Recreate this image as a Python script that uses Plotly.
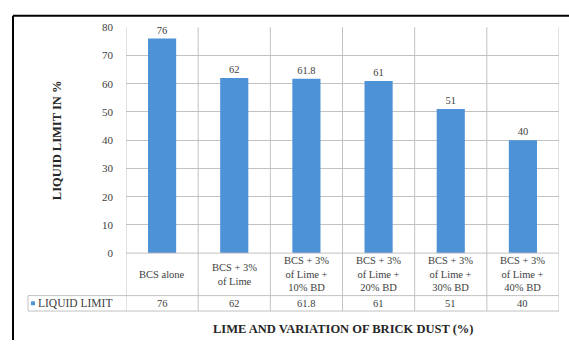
import plotly.graph_objects as go

# Chart data
categories = ["BCS alone", "BCS + 3% of Lime", "BCS + 3% of Lime + 10% BD",
              "BCS + 3% of Lime + 20% BD", "BCS + 3% of Lime + 30% BD",
              "BCS + 3% of Lime + 40% BD"]
category_labels = ["BCS alone", "BCS + 3%<br>of Lime", "BCS + 3%<br>of Lime +<br>10% BD",
                   "BCS + 3%<br>of Lime +<br>20% BD", "BCS + 3%<br>of Lime +<br>30% BD",
                   "BCS + 3%<br>of Lime +<br>40% BD"]
liquid_limit = [76, 62, 61.8, 61, 51, 40]
series_name = "LIQUID LIMIT"
y_ticks = [0, 10, 20, 30, 40, 50, 60, 70, 80]

W, H = 569, 346
FONT = "Liberation Serif"
BLUE = "#4d91d6"
GRID = "#c2c2c2"
TXT = "#404040"


def px(x):
    return x / W


def py(y):
    return 1 - y / H


# plot area in pixels
PL, PR, PT, PB = 126, 559, 22, 256
ROW1_B = 300   # bottom of category-label row
ROW2_B = 316   # bottom of value row
LEG_L = 28     # left edge of the series cell

fig = go.Figure()
fig.add_trace(go.Bar(
    x=categories, y=liquid_limit, name=series_name,
    marker=dict(color=BLUE, line=dict(width=0)),
    width=0.39,
    text=[str(v) for v in liquid_limit], textposition="outside",
    textfont=dict(family=FONT, size=10.5, color=TXT),
    cliponaxis=False,
))

shapes = []
n = len(categories)
# vertical table/grid lines at category boundaries
for i in range(n + 1):
    shapes.append(dict(type="line", xref="x", yref="paper",
                       x0=i - 0.5, x1=i - 0.5, y0=py(ROW2_B), y1=py(PT),
                       line=dict(color=GRID, width=1)))
# horizontal table lines
shapes.append(dict(type="line", xref="x", yref="paper", x0=-0.5, x1=n - 0.5,
                   y0=py(PB), y1=py(PB), line=dict(color=GRID, width=1)))
for yy in (ROW1_B, ROW2_B):
    shapes.append(dict(type="line", xref="paper", yref="paper", x0=px(LEG_L), x1=px(PR),
                       y0=py(yy), y1=py(yy), line=dict(color=GRID, width=1)))
shapes.append(dict(type="line", xref="paper", yref="paper", x0=px(LEG_L), x1=px(LEG_L),
                   y0=py(ROW1_B), y1=py(ROW2_B), line=dict(color=GRID, width=1)))
# legend key
shapes.append(dict(type="rect", xref="paper", yref="paper", x0=px(31), x1=px(35),
                   y0=py(310), y1=py(306), fillcolor=BLUE, line=dict(width=0)))
# outer frame (left and top edges)
shapes.append(dict(type="line", xref="paper", yref="paper", x0=px(13), x1=px(13),
                   y0=0, y1=py(10), line=dict(color="black", width=2)))
shapes.append(dict(type="line", xref="paper", yref="paper", x0=px(13), x1=1,
                   y0=py(10), y1=py(10), line=dict(color="black", width=2)))

annotations = []
for cat, lab, v in zip(categories, category_labels, liquid_limit):
    annotations.append(dict(x=cat, xref="x", y=py((PB + ROW1_B) / 2), yref="paper",
                            text=lab, showarrow=False, yanchor="middle",
                            font=dict(family=FONT, size=10.5, color=TXT)))
    annotations.append(dict(x=cat, xref="x", y=py((ROW1_B + ROW2_B) / 2), yref="paper",
                            text=str(v), showarrow=False, yanchor="middle",
                            font=dict(family=FONT, size=10.5, color=TXT)))
annotations.append(dict(x=px(36), xref="paper", y=py((ROW1_B + ROW2_B) / 2), yref="paper",
                        text=series_name, showarrow=False, xanchor="left", yanchor="middle",
                        font=dict(family=FONT, size=11.5, color=TXT)))
annotations.append(dict(x=px(57), xref="paper", y=py((PT + PB) / 2), yref="paper",
                        text="<b>LIQUID LIMIT IN %</b>", textangle=-90, showarrow=False,
                        xanchor="center", yanchor="middle",
                        font=dict(family=FONT, size=12.5, color="#262626")))
annotations.append(dict(x=px((PL + PR) / 2), xref="paper", y=py(335), yref="paper",
                        text="<b>LIME AND VARIATION OF BRICK DUST (%)</b>", showarrow=False,
                        xanchor="center", yanchor="middle",
                        font=dict(family=FONT, size=12.5, color="#262626")))

fig.update_layout(
    width=W, height=H,
    margin=dict(l=0, r=0, t=0, b=0),
    paper_bgcolor="white", plot_bgcolor="white",
    showlegend=False,
    shapes=shapes, annotations=annotations,
    xaxis=dict(domain=[px(PL), px(PR)], range=[-0.5, n - 0.5],
               showticklabels=False, showgrid=False, zeroline=False, showline=False),
    yaxis=dict(domain=[py(PB), py(PT)], range=[0, 80], tickvals=y_ticks,
               showgrid=True, gridcolor=GRID, gridwidth=1, zeroline=False, showline=False,
               ticks="", ticklabelstandoff=12,
               tickfont=dict(family=FONT, size=11, color=TXT)),
)

fig.write_html("out.html")
